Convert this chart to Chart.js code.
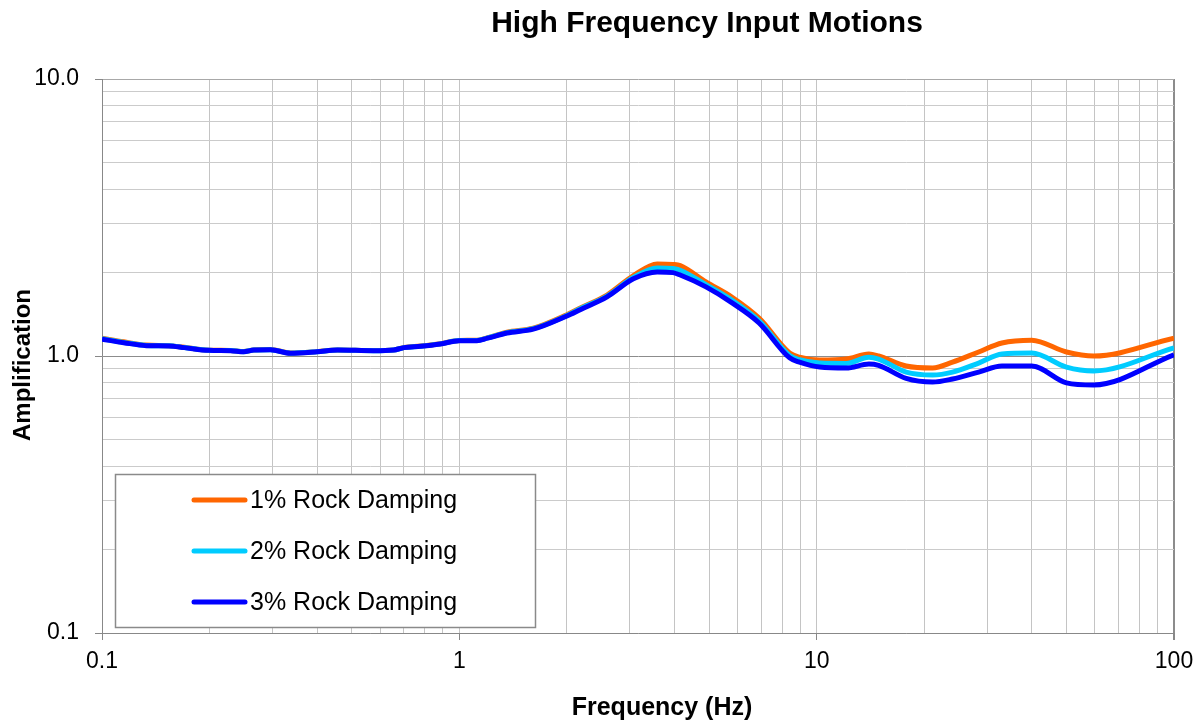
<!DOCTYPE html>
<html>
<head>
<meta charset="utf-8">
<title>High Frequency Input Motions</title>
<script src="https://cdn.jsdelivr.net/npm/chart.js@4.4.0/dist/chart.umd.min.js"></script>
<style>
    html, body { margin: 0; padding: 0; background: #fff; }
    #wrap { width: 1203px; height: 728px; }
</style>
</head>
<body>
<div id="wrap"><canvas id="ampChart" width="1203" height="728"></canvas></div>
<script>
// ========== 数据 ==========
const frequency = [
    0.1, 0.115, 0.133, 0.154, 0.17, 0.199, 0.229, 0.249, 0.266, 0.296,
    0.337, 0.4, 0.456, 0.575, 0.655, 0.7, 0.78, 0.885, 1.0, 1.12,
    1.2, 1.36, 1.61, 2.0, 2.18, 2.59, 3.07, 3.58, 3.96, 4.15,
    4.9, 5.8, 6.9, 8.4, 8.95, 10.2, 12.1, 14.0, 14.9, 17.8,
    21.1, 24.0, 28.4, 33.0, 40, 50, 59.6, 100
];
const damping1 = [
    1.16, 1.125, 1.095, 1.09, 1.075, 1.05, 1.047, 1.038, 1.052, 1.055,
    1.025, 1.037, 1.052, 1.046, 1.052, 1.073, 1.086, 1.107, 1.138, 1.14,
    1.165, 1.22, 1.26, 1.41, 1.49, 1.66, 1.95, 2.15, 2.14, 2.12,
    1.85, 1.63, 1.37, 1.025, 0.99, 0.967, 0.975, 1.017, 1.0, 0.92,
    0.905, 0.95, 1.034, 1.114, 1.14, 1.034, 1.0, 1.16
];
const damping2 = [
    1.155, 1.12, 1.092, 1.088, 1.073, 1.049, 1.046, 1.037, 1.051, 1.054,
    1.024, 1.036, 1.051, 1.045, 1.051, 1.072, 1.085, 1.106, 1.137, 1.138,
    1.162, 1.215, 1.255, 1.40, 1.48, 1.645, 1.92, 2.08, 2.07, 2.04,
    1.81, 1.59, 1.34, 1.005, 0.97, 0.943, 0.94, 0.99, 0.975, 0.875,
    0.854, 0.875, 0.943, 1.017, 1.025, 0.912, 0.883, 1.07
];
const damping3 = [
    1.15, 1.117, 1.09, 1.087, 1.072, 1.048, 1.045, 1.036, 1.051, 1.054,
    1.023, 1.036, 1.051, 1.045, 1.051, 1.072, 1.084, 1.105, 1.136, 1.136,
    1.16, 1.21, 1.25, 1.395, 1.47, 1.634, 1.90, 2.01, 2.0, 1.96,
    1.776, 1.555, 1.316, 0.985, 0.95, 0.912, 0.905, 0.935, 0.925, 0.83,
    0.805, 0.826, 0.875, 0.92, 0.92, 0.8, 0.786, 1.01
];
const seriesLabels = ['1% Rock Damping', '2% Rock Damping', '3% Rock Damping'];
const seriesColors = ['#FF6600', '#00CCFF', '#0000FF'];
const xTickLabels = ['0.1', '1', '10', '100'];
const yTickLabels = ['0.1', '1.0', '10.0'];

const FONT = '"Liberation Sans", Arial, sans-serif';

// 每个十进位内 1..9 的网格位置
function decadeGrid(labels) {
    const majors = labels.map(Number);
    const vals = [];
    for (let i = 0; i < majors.length - 1; i++) {
        for (let k = 1; k < 10; k++) vals.push(+(majors[i] * k).toPrecision(3));
    }
    vals.push(majors[majors.length - 1]);
    return vals;
}

function tickLabel(labels, value) {
    const hit = labels.find(l => Math.abs(Number(l) - value) < 1e-9);
    return hit === undefined ? '' : hit;
}

function toPoints(ys) {
    return frequency.map((f, i) => ({ x: f, y: ys[i] }));
}

// ========== 标题 / 轴标题 / 图例 ==========
const annotations = {
    id: 'annotations',
    afterDraw(chart) {
        const ctx = chart.ctx;
        ctx.save();
        ctx.fillStyle = '#000';
        ctx.textBaseline = 'middle';
        ctx.textAlign = 'center';

        ctx.font = `bold 30px ${FONT}`;
        ctx.fillText('High Frequency Input Motions', 707, 24);

        ctx.font = `bold 25px ${FONT}`;
        ctx.fillText('Frequency (Hz)', 662, 708);

        ctx.save();
        ctx.translate(23, 365);
        ctx.rotate(-Math.PI / 2);
        ctx.font = `bold 24px ${FONT}`;
        ctx.fillText('Amplification', 0, 0);
        ctx.restore();

        // 图例框
        ctx.fillStyle = '#fff';
        ctx.fillRect(115, 474, 420, 153);
        ctx.strokeStyle = '#8a8a8a';
        ctx.lineWidth = 1.5;
        ctx.strokeRect(115.5, 474.5, 420, 153);

        ctx.textAlign = 'left';
        ctx.font = `25px ${FONT}`;
        chart.data.datasets.forEach((ds, i) => {
            const y = 500 + i * 51;
            ctx.strokeStyle = ds.borderColor;
            ctx.lineWidth = 5;
            ctx.lineCap = 'round';
            ctx.beginPath();
            ctx.moveTo(194, y);
            ctx.lineTo(245, y);
            ctx.stroke();
            ctx.fillStyle = '#000';
            ctx.fillText(ds.label, 250, y + 1);
        });
        ctx.restore();
    }
};

// ========== 图表 ==========
const ctx = document.getElementById('ampChart').getContext('2d');
new Chart(ctx, {
    type: 'line',
    data: {
        datasets: [damping1, damping2, damping3].map((ys, i) => ({
            label: seriesLabels[i],
            data: toPoints(ys),
            borderColor: seriesColors[i],
            backgroundColor: seriesColors[i],
            borderWidth: 5,
            pointRadius: 0,
            cubicInterpolationMode: 'monotone',
            order: 3 - i,
            fill: false
        }))
    },
    options: {
        responsive: false,
        animation: false,
        devicePixelRatio: 1,
        layout: { padding: { top: 79, right: 29, left: 0, bottom: 0 } },
        plugins: {
            legend: { display: false },
            title: { display: false },
            tooltip: { enabled: false }
        },
        scales: {
            x: {
                type: 'logarithmic',
                min: 0.1,
                max: 100,
                afterBuildTicks: scale => {
                    scale.ticks = decadeGrid(xTickLabels).map(v => ({ value: v }));
                },
                afterFit: scale => { scale.height = 95; },
                grid: {
                    color: c => c.tick && c.tick.value === 100 ? '#8c8c8c' : '#c4c4c4',
                    lineWidth: c => c.tick && c.tick.value === 100 ? 2 : 1,
                    tickColor: c => tickLabel(xTickLabels, c.tick.value) ? '#888' : 'rgba(0,0,0,0)',
                    tickLength: 7
                },
                border: { display: true, color: '#888', width: 1 },
                ticks: {
                    autoSkip: false,
                    maxRotation: 0,
                    padding: 8,
                    color: '#000',
                    font: { family: FONT, size: 23 },
                    callback: value => tickLabel(xTickLabels, value)
                }
            },
            y: {
                type: 'logarithmic',
                min: 0.1,
                max: 10,
                afterBuildTicks: scale => {
                    scale.ticks = decadeGrid(yTickLabels).map(v => ({ value: v }));
                },
                afterFit: scale => { scale.width = 102; },
                grid: {
                    color: c => {
                        if (!c.tick) return '#c8c8c8';
                        if (c.tick.value === 1) return '#8c8c8c';
                        if (c.tick.value === 10) return '#a8a8a8';
                        return '#cbcbcb';
                    },
                    tickColor: c => tickLabel(yTickLabels, c.tick.value) ? '#888' : 'rgba(0,0,0,0)',
                    tickLength: 7
                },
                border: { display: true, color: '#888', width: 1 },
                ticks: {
                    autoSkip: false,
                    padding: 16,
                    color: '#000',
                    font: { family: FONT, size: 23 },
                    callback: value => tickLabel(yTickLabels, value)
                }
            }
        }
    },
    plugins: [annotations]
});
</script>
</body>
</html>
